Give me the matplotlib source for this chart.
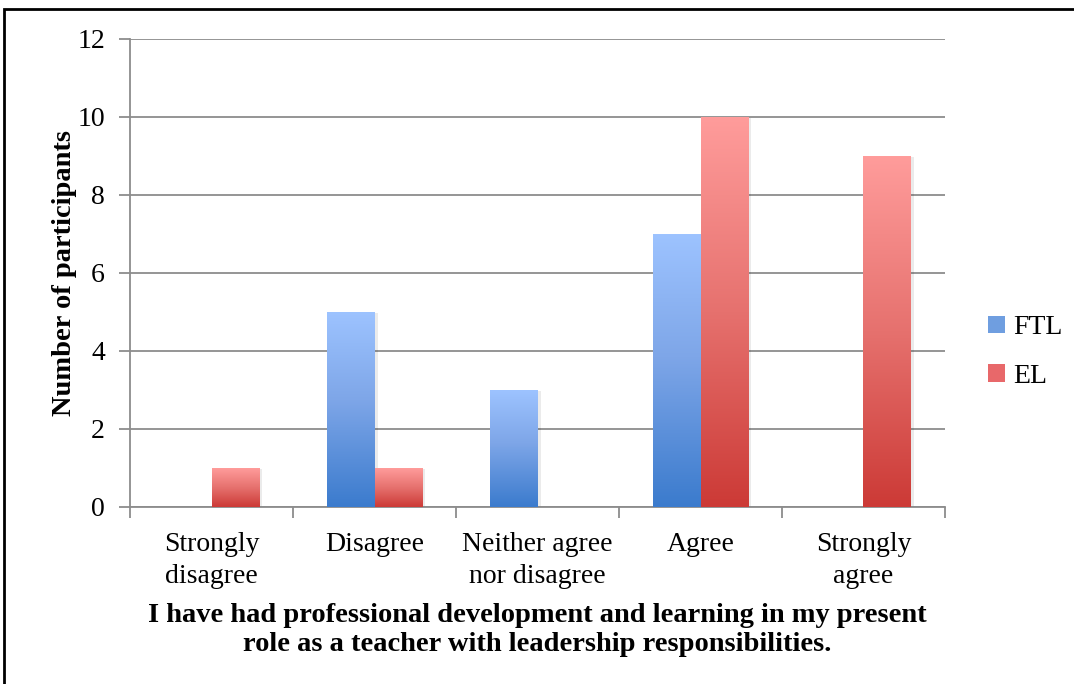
import numpy as np
import matplotlib.pyplot as plt
from matplotlib.colors import LinearSegmentedColormap
from matplotlib.patches import Rectangle, Patch

categories = ["Strongly\ndisagree", "Disagree", "Neither agree\nnor disagree", "Agree", "Strongly\nagree"]
ftl = [0, 5, 3, 7, 0]
el = [1, 1, 0, 10, 9]
series_names = ["FTL", "EL"]

plt.rcParams["font.family"] = ["Liberation Serif", "DejaVu Serif"]

blue_cmap = LinearSegmentedColormap.from_list("b", [(0, "#3b7bcd"), (0.55, "#7ea6e8"), (1, "#9dc3ff")])
red_cmap = LinearSegmentedColormap.from_list("r", [(0, "#cc3a36"), (0.5, "#e6716e"), (1, "#ff9c9b")])

fig = plt.figure(figsize=(10.74, 6.84), dpi=100)
ax = fig.add_axes([130 / 1074, 1 - 507 / 684, 815 / 1074, 468 / 684])

x = np.arange(len(categories))
w = 0.29
grad = np.linspace(0, 1, 256).reshape(-1, 1)


def grad_bars(xs, vals, cmap, label):
    bars = ax.bar(xs, vals, w, color="none", edgecolor="none", label=label, zorder=3)
    for b in bars:
        h = b.get_height()
        if h <= 0:
            continue
        x0 = b.get_x()
        # soft shadow
        ax.add_patch(Rectangle((x0 + 0.02, 0), w, h - 0.03, color="#000000", alpha=0.08, zorder=2.5, lw=0))
        im = ax.imshow(grad, extent=[x0, x0 + w, 0, h], origin="lower", cmap=cmap, aspect="auto", zorder=3)
        im.set_clip_path(b)


grad_bars(x - w / 2, ftl, blue_cmap, "FTL")
grad_bars(x + w / 2, el, red_cmap, "EL")

ax.set_xlim(-0.5, len(categories) - 0.5)
ax.set_ylim(0, 12)
ax.set_yticks(range(0, 13, 2))
ax.yaxis.grid(True, color="#8c8c8c", lw=1.3, zorder=0)
ax.set_axisbelow(True)
for s in ["top", "right"]:
    ax.spines[s].set_visible(False)
for s in ["left", "bottom"]:
    ax.spines[s].set_color("#8c8c8c")
    ax.spines[s].set_linewidth(1.3)

ax.set_xticks(np.arange(-0.5, len(categories)), minor=False)
ax.set_xticklabels([])
ax.set_xticks(x, minor=True)
ax.set_xticklabels(categories, minor=True, fontsize=20, linespacing=1.35)
ax.tick_params(axis="x", which="minor", length=0, pad=18)
ax.tick_params(axis="x", which="major", length=8, color="#8c8c8c", width=1.3)
ax.tick_params(axis="y", length=8, color="#8c8c8c", width=1.3, labelsize=20, pad=10)

ax.set_ylabel("Number of participants", fontsize=20.5, fontweight="bold", labelpad=0)
ax.set_xlabel("I have had professional development and learning in my present\nrole as a teacher with leadership responsibilities.",
              fontsize=20.5, fontweight="bold", labelpad=10, linespacing=1.22)

handles = [Patch(facecolor="#6f9ee0", edgecolor="none"), Patch(facecolor="#e8686a", edgecolor="none")]
fig.legend(handles, series_names, loc="center left", bbox_to_anchor=(988 / 1074, 1 - 352 / 684),
           frameon=False, fontsize=20, handlelength=0.6, handleheight=0.6, labelspacing=0.85,
           handletextpad=0.3, borderpad=0, borderaxespad=0)

# outer frame (cropped on right and bottom)
fig.add_artist(Rectangle((4 / 1074, -0.1), 1.2, 1 - 9 / 684 + 0.1, transform=fig.transFigure,
                         fill=False, edgecolor="black", lw=2))

fig.savefig("out.png", dpi=100)
